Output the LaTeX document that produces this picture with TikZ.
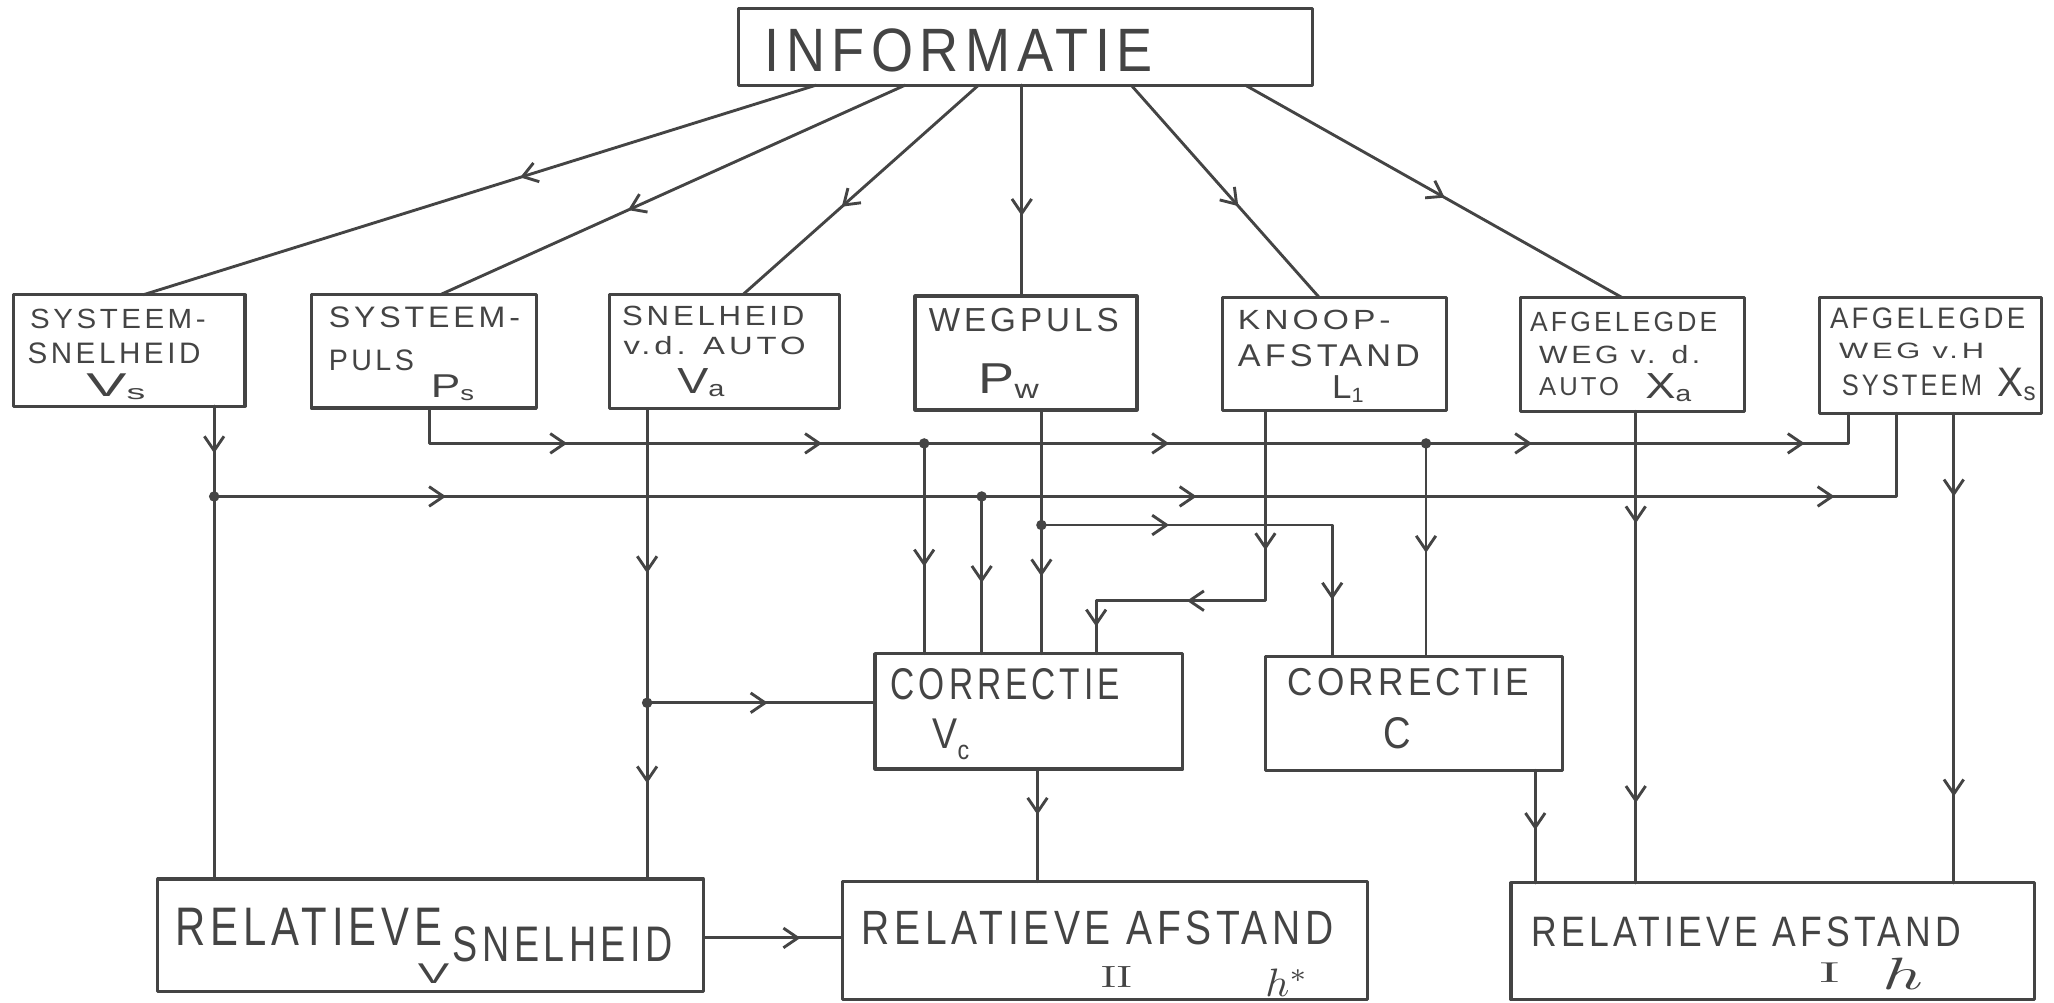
\documentclass[tikz,border=0pt]{standalone}
\usepackage{fontspec}
\usepackage{graphicx}
\newfontfamily\hand{Liberation Sans}[LetterSpace=12]
\usetikzlibrary{arrows.meta,decorations.markings}
\definecolor{ink}{HTML}{444444}

% box: name, left, top, right, bottom
\newcommand\bx[5]{%
  \pgfmathsetlengthmacro\bwd{(#4)-(#2)}%
  \pgfmathsetlengthmacro\bht{(#5)-(#3)}%
  \node[box, minimum width=\bwd, minimum height=\bht] (#1) at (#2,#3) {};}
% text fitted into a region: name, left, top, right, bottom, text
\newcommand\tx[6]{%
  \pgfmathsetlengthmacro\twd{(#4)-(#2)}%
  \pgfmathsetlengthmacro\tht{(#5)-(#3)}%
  \node[txt] (#1) at (#2,#5) {\resizebox*{\twd}{\tht}{#6}};}
% quantity with a small index
\newcommand\qi[2]{#1\raisebox{-0.1em}{\scalebox{0.62}{#2}}}

\begin{document}
\begin{tikzpicture}[x=1pt, y=-1pt, line join=round, line cap=round,
  box/.style={draw=ink, line width=2.4pt, rectangle, anchor=north west,
    inner sep=0pt, outer sep=0pt},
  wire/.style={draw=ink, line width=2.2pt},
  txt/.style={inner sep=0pt, outer sep=0pt, anchor=south west, text=ink, font=\hand},
  barb at/.style={postaction={decorate, decoration={markings,
    mark=at position #1 with {\arrow[ink]{Straight Barb[length=11pt,width=15pt]}}}}},
  jdot/.style={circle, fill=ink, inner sep=0pt, minimum size=8pt}]

\useasboundingbox (0,0) rectangle (1568,765);

% ---- boxes
\bx{info}{564}{6.5}{1002}{65}
\bx{vs}{10}{225}{187}{310}
\bx{ps}{237.5}{225}{409.5}{311.5}
\bx{va}{465.5}{225}{641}{312}
\bx{pw}{698.5}{226}{868}{313}
\bx{lk}{933.5}{227}{1104.5}{313.5}
\bx{xa}{1161}{227}{1332}{314}
\bx{xs}{1389}{227}{1558.5}{315.5}
\bx{cv}{668}{499}{903}{587}
\bx{cc}{966}{501}{1193}{588}
\bx{rs}{120.5}{671}{537}{757}
\bx{raii}{643}{673}{1044}{763}
\bx{rai}{1153.5}{674}{1553}{763}

% ---- texts
\tx{tinfo}{583.8}{21.6}{880}{54.7}{INFORMATIE}
\tx{tvs1}{23}{236}{157}{251}{SYSTEEM-}
\tx{tvs2}{21}{262}{153}{278}{SNELHEID}
\tx{tvs3}{66}{285}{111}{305}{\qi{V}{s}}
\tx{tps1}{251}{234}{397}{250}{SYSTEEM-}
\tx{tps2}{251}{267}{316}{283}{PULS}
\tx{tps3}{329}{286}{362}{306}{\qi{P}{s}}
\tx{tva1}{475}{234}{614}{249}{SNELHEID}
\tx{tva2}{476}{257}{615}{271}{v.d. AUTO}
\tx{tva3}{517}{281}{553}{303}{\qi{V}{a}}
\tx{tpw1}{709}{235}{854}{253}{WEGPULS}
\tx{tpw2}{747}{278}{793}{304}{\qi{P}{w}}
\tx{tlk1}{945}{237}{1061.6}{252}{KNOOP-}
\tx{tlk2}{945}{263}{1084}{280}{AFSTAND}
\tx{tlk3}{1017}{287}{1041}{307}{\qi{L}{1}}
\tx{txa1}{1168}{238}{1311}{253}{AFGELEGDE}
\tx{txa2}{1175}{264}{1298}{278}{WEG v. d.}
\tx{txa3}{1175}{288}{1236}{302}{AUTO}
\tx{txa4}{1256}{285}{1291}{307}{\qi{X}{a}}
\tx{txs1}{1397}{235}{1546}{251}{AFGELEGDE}
\tx{txs2}{1404}{262}{1514.6}{274}{WEG v.H}
\tx{txs3}{1406}{286}{1513}{302}{SYSTEEM}
\tx{txs4}{1525}{281}{1554}{306}{\qi{X}{s}}
\tx{tcv1}{680}{510}{855}{534}{CORRECTIE}
\tx{tcv2}{712}{549}{740}{580}{V\raisebox{-0.25em}{\scalebox{0.62}{c}}}
\tx{tcc1}{983}{510}{1167}{531}{CORRECTIE}
\tx{tcc2}{1056}{548}{1077}{572}{C}
\tx{trs1}{134}{693}{338}{721.5}{RELATIEVE}
\tx{trs2}{345.7}{707}{513.6}{734}{SNELHEID}
\tx{trs3}{319}{736}{343}{751}{V}
\tx{trii1}{658}{695}{1018}{721}{RELATIEVE AFSTAND}
\tx{trii2}{840.5}{738}{864}{754}{\rmfamily II}
\tx{trii3}{966}{740}{999}{761}{$h^{*}$}
\tx{tri1}{1169}{700}{1497}{723}{RELATIEVE AFSTAND}
\tx{tri2}{1389}{735}{1404}{750}{\rmfamily I}
\tx{tri3}{1437}{731}{1468}{755}{$h$}

% ---- junctions and bends
\node[jdot] (jB0) at (163.5,379) {};
\node[jdot] (jB1) at (749.4,379) {};
\node[jdot] (jA1) at (705.5,338.5) {};
\node[jdot] (jA2) at (1088.6,338.5) {};
\node[jdot] (jV) at (494,536.5) {};
\node[jdot] (jP) at (795,400.8) {};
\coordinate (cA0) at (328,338.5);
\coordinate (cA) at (1411,338.5);
\coordinate (cB) at (1447.5,379);
\coordinate (cP) at (1017,400.8);
\coordinate (cL1) at (966,458.6);
\coordinate (cL2) at (836.8,458.6);
\coordinate (kXa) at (1248.7,500);
\coordinate (kXs) at (1491.5,500);
\coordinate (kVc) at (792,630);
\coordinate (kC) at (1172,630);
\coordinate (kR) at (590,716);

% ---- fan-out from INFORMATIE
\draw[wire, barb at=0.44] ([xshift=59pt]info.south west) -- ([xshift=99.5pt]vs.north west);
\draw[wire, barb at=0.596] ([xshift=127pt]info.south west) -- ([xshift=98.5pt]ps.north west);
\draw[wire, barb at=0.58] ([xshift=183pt]info.south west) -- ([xshift=101.5pt]va.north west);
\draw[wire, barb at=0.62] ([xshift=216pt]info.south west) -- ([xshift=81.5pt]pw.north west);
\draw[wire, barb at=0.57] ([xshift=299.5pt]info.south west) -- ([xshift=73.5pt]lk.north west);
\draw[wire, barb at=0.53] ([xshift=386.6pt]info.south west) -- ([xshift=77pt]xa.north west);

% ---- signal lines
\draw[wire, barb at=36pt] (vs.south -| jB0) -- (rs.north -| jB0);
\draw[wire, barb at=177pt, barb at=750pt, barb at=1237pt]
  (jB0.center) -- (cB) -- (xs.south -| cB);
\draw[wire, barb at=132pt, barb at=326.5pt, barb at=591.5pt, barb at=868.6pt, barb at=1076.7pt]
  (ps.south -| cA0) -- (cA0) -- (cA) -- (xs.south -| cA);
\draw[wire, barb at=125.6pt, barb at=286pt] (va.south -| jV) -- (rs.north -| jV);
\draw[wire, barb at=92pt] (jV.center) -- (cv.west |- jV);
\draw[wire, barb at=94pt] (jA1.center) -- (cv.north -| jA1);
\draw[wire, barb at=66pt] (jB1.center) -- (cv.north -| jB1);
\draw[wire, barb at=127pt] (pw.south -| jP) -- (cv.north -| jP);
\draw[wire, barb at=97.5pt, barb at=279pt] (jP.center) -- (cP) -- (cc.north -| cP);
\draw[wire, barb at=106.5pt, barb at=205pt, barb at=294pt]
  (lk.south -| cL1) -- (cL1) -- (cL2) -- (cv.north -| cL2);
\draw[wire, barb at=83.5pt] (jA2.center) -- (cc.north -| jA2);
\draw[wire, barb at=85.5pt, barb at=299pt] (xa.south -| kXa) -- (rai.north -| kXa);
\draw[wire, barb at=63.5pt, barb at=292.5pt] (xs.south -| kXs) -- (rai.north -| kXs);
\draw[wire, barb at=35pt] (cv.south -| kVc) -- (raii.north -| kVc);
\draw[wire, barb at=45.6pt] (cc.south -| kC) -- (rai.north -| kC);
\draw[wire, barb at=74pt] (rs.east |- kR) -- (raii.west |- kR);

\end{tikzpicture}
\end{document}
